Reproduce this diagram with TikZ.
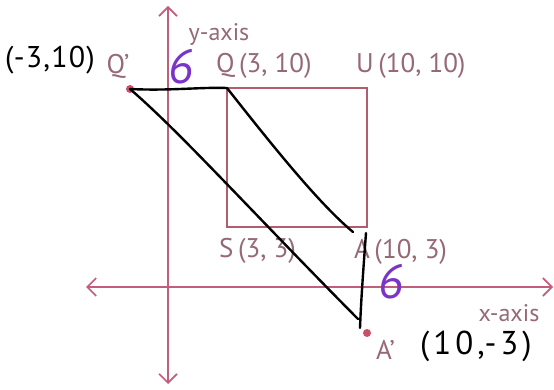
\documentclass[tikz,border=0pt]{standalone}
\usepackage{fontspec}
\setmainfont{PT Sans}
\usetikzlibrary{arrows.meta}
\definecolor{axiscol}{RGB}{196,92,124}
\definecolor{sqcol}{RGB}{178,92,112}
\definecolor{labcol}{RGB}{150,105,118}
\definecolor{purp}{RGB}{122,52,200}
\begin{document}
\begin{tikzpicture}[x=1pt,y=-1pt,
  axis/.style={draw=axiscol,line width=1.4pt,
    {Straight Barb[length=9pt,width=18pt,line width=1.6pt]}-{Straight Barb[length=9pt,width=18pt,line width=1.6pt]}},
  sq/.style={draw=sqcol,line width=1.5pt},
  dot/.style={circle,fill=axiscol!85!red,inner sep=0pt,minimum size=8pt},
  lab/.style={text=labcol,font=\fontsize{27}{29}\selectfont,inner sep=0pt},
  axlab/.style={text=labcol,font=\fontsize{24}{26}\selectfont,inner sep=0pt},
  hand/.style={draw=black,line width=2.4pt,line cap=round,line join=round},
  handtxt/.style={text=black,font=\fontsize{30}{32}\selectfont\addfontfeatures{LetterSpace=4},inner sep=0pt},
  handtxtw/.style={text=black,font=\fontsize{33}{35}\selectfont\addfontfeatures{LetterSpace=12},inner sep=0pt},
  six/.style={text=purp,font=\fontsize{48}{50}\selectfont\itshape,inner sep=0pt}]
\useasboundingbox[fill=white] (0,0) rectangle (554,390);
% axes
\coordinate (xl) at (86,287);
\coordinate (xr) at (553,287);
\coordinate (yt) at (168,6);
\coordinate (yb) at (168,384);
\draw[axis] (xl) -- (xr);
\draw[axis] (yb) -- (yt);
% square
\coordinate (Q) at (227,88);
\coordinate (U) at (367,88);
\coordinate (A) at (367,227);
\coordinate (S) at (227,227);
\draw[sq] (Q) -- (U) -- (A) -- (S) -- cycle;
% image points
\node[dot] (Qp) at (130,89) {};
\node[dot] (Ap) at (367,333) {};
% labels
\node[axlab] (ylab) at (219,34) {y-axis};
\node[axlab] (xlab) at (509,313) {x-axis};
\node[lab] (Qplab) at (118,66) {Q’};
\node[lab,anchor=west] (Qlab) at (216,66) {Q\,(3, 10)};
\node[lab,anchor=west] (Ulab) at (356,66) {U\,(10, 10)};
\node[lab,anchor=west] (Slab) at (219,251) {S\,(3, 3)};
\node[lab,anchor=west] (Alab) at (354,252) {A\,(10, 3)};
\node[lab,anchor=west] (Aplab) at (376,350) {A’};
% handwritten
\node[handtxt] (hq) at (50,60) {(-3,10)};
\node[handtxtw,anchor=west] (ha) at (420,346) {(10,-3)};
\node[six] (s1) at (181,67) {6};
\node[six] (s2) at (391,282) {6};
% hand-drawn lines
\coordinate (e1) at (353,232);
\coordinate (e2) at (358,319);
\coordinate (e3) at (366,233);
\coordinate (e4) at (360,328);
\draw[hand] (Qp.center) .. controls (170,91) and (200,87) .. (Q);
\draw[hand] (Q) .. controls (268,140) and (318,203) .. (e1);
\draw[hand] (Qp.center) .. controls (180,132) and (250,210) .. (e2);
\draw[hand] (e3) .. controls (364,260) and (361,300) .. (e4);
\end{tikzpicture}
\end{document}
